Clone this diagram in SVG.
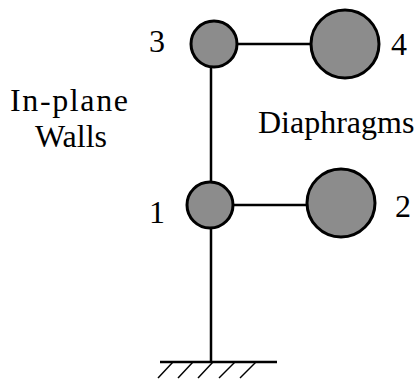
<svg xmlns="http://www.w3.org/2000/svg" width="414" height="382" viewBox="0 0 414 382">
  <style>
    .bar { stroke: #000; stroke-width: 2.5; fill: none; }
    .hatch { stroke: #000; stroke-width: 1.5; fill: none; }
    .mass { fill: #8c8c8c; stroke: #000; stroke-width: 3; }
    .lbl { font-family: "Liberation Serif", "Times New Roman", Times, serif; font-size: 32px; fill: #000; }
  </style>
  <rect width="414" height="382" fill="#fff"/>

  <g id="connectors">
    <line class="bar" x1="211" y1="44" x2="211" y2="362"/>
    <line class="bar" x1="214" y1="44" x2="345" y2="44"/>
    <line class="bar" x1="210" y1="205" x2="341" y2="205"/>
  </g>

  <g id="ground">
    <line class="bar" x1="160" y1="362" x2="277" y2="362"/>
    <line class="hatch" x1="173" y1="362" x2="158" y2="378"/>
    <line class="hatch" x1="193" y1="362" x2="178" y2="378"/>
    <line class="hatch" x1="213" y1="362" x2="198" y2="378"/>
    <line class="hatch" x1="235" y1="362" x2="219" y2="378"/>
    <line class="hatch" x1="256" y1="362" x2="240" y2="378"/>
  </g>

  <g id="node3">
    <circle class="mass" cx="214" cy="44" r="23"/>
    <text class="lbl" x="149" y="52">3</text>
  </g>
  <g id="node4">
    <circle class="mass" cx="345" cy="44" r="34"/>
    <text class="lbl" x="391" y="55">4</text>
  </g>
  <g id="node1">
    <circle class="mass" cx="210" cy="205" r="23"/>
    <text class="lbl" x="149" y="223">1</text>
  </g>
  <g id="node2">
    <circle class="mass" cx="341" cy="203" r="34"/>
    <text class="lbl" x="395" y="217">2</text>
  </g>

  <g id="labels">
    <text class="lbl" x="10" y="111" textLength="118" lengthAdjust="spacing">In-plane</text>
    <text class="lbl" x="71" y="147" text-anchor="middle">Walls</text>
    <text class="lbl" x="258" y="133">Diaphragms</text>
  </g>
</svg>
